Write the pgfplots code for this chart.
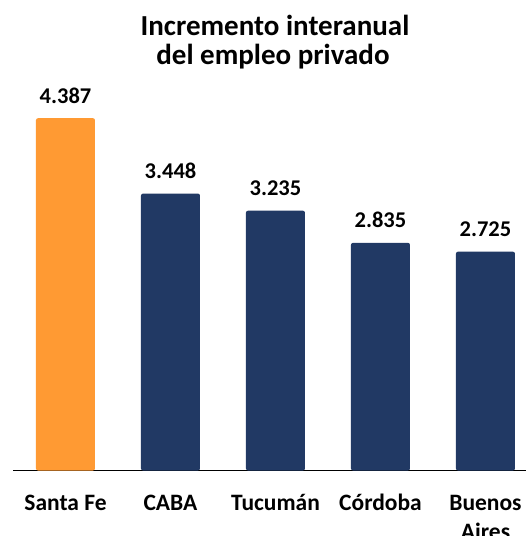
\documentclass[border=0pt]{standalone}
\usepackage{pgfplots}
\pgfplotsset{compat=1.18}
\usepackage{fontspec}
\setmainfont{Carlito}
\definecolor{sforange}{RGB}{255,154,51}
\definecolor{navy}{RGB}{33,57,100}
\begin{document}
\begin{tikzpicture}[x=1pt,y=1pt]
\begin{axis}[
  at={(13pt,65.5pt)}, anchor=south west,
  scale only axis, width=513pt, height=401.5pt,
  xmin=-0.5, xmax=4.386, ymin=0, ymax=5,
  axis x line*=bottom, axis y line=none,
  x axis line style={line width=1.6pt,-},
  ybar, bar width=59pt, bar shift=0pt,
  xtick={0,1,2,3,4}, major tick length=0pt,
  xticklabels={Santa Fe, CABA, Tucumán, Córdoba, {\begin{tabular}[t]{@{}c@{}}Buenos\\Aires\end{tabular}}},
  xticklabel style={anchor=base, inner sep=0pt, yshift=-40pt,
    font=\fontsize{23.5}{29}\selectfont\bfseries},
  point meta=explicit symbolic,
  nodes near coords,
  nodes near coords style={font=\fontsize{22.5}{26}\selectfont\bfseries, anchor=base, inner sep=0pt, yshift=15pt},
  clip=false,
]
\addplot[fill=sforange, draw=none, rounded corners=2pt] coordinates {(0,4.387) [4.387]};
\addplot[fill=navy, draw=none, rounded corners=2pt] coordinates {(1,3.448) [3.448] (2,3.235) [3.235] (3,2.835) [2.835] (4,2.725) [2.725]};
\end{axis}
\node[anchor=base, inner sep=0pt, font=\fontsize{29}{34}\selectfont\bfseries] at (275,500) {Incremento interanual};
\node[anchor=base, inner sep=0pt, font=\fontsize{29}{34}\selectfont\bfseries] at (273,471) {del empleo privado};
\pgfresetboundingbox
\path (0,0) rectangle (526,536);
\end{tikzpicture}
\end{document}
